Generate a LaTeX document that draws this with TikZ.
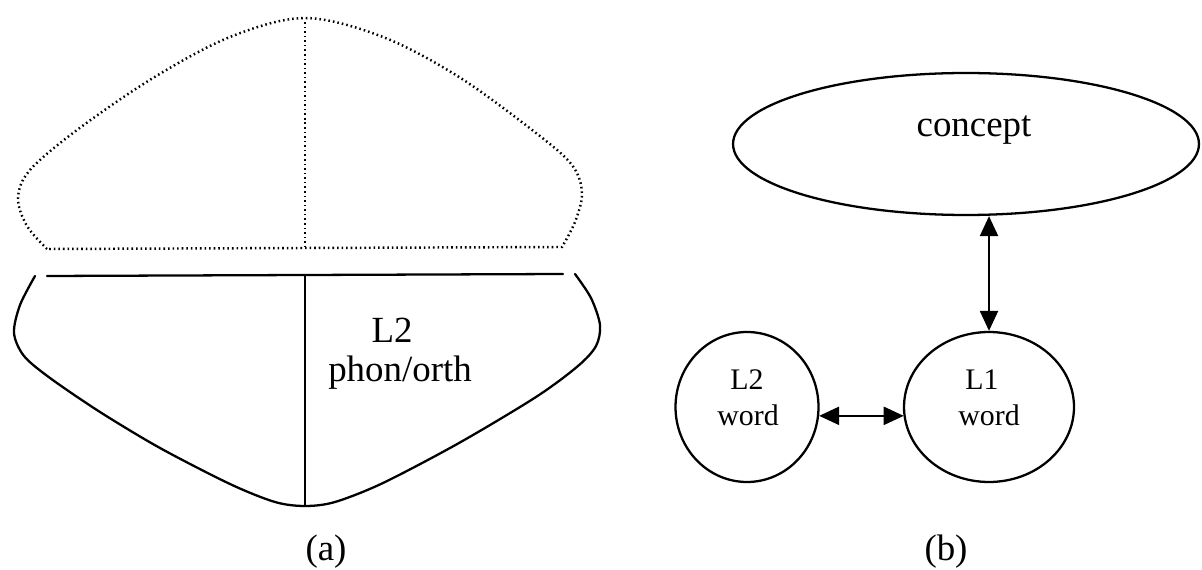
\documentclass[tikz,border=0pt]{standalone}
\usepackage{fontspec}
\setmainfont{Liberation Serif}
\usetikzlibrary{arrows.meta,shapes.geometric}
\begin{document}
\begin{tikzpicture}[x=0.02cm,y=-0.02cm,
  outline/.style={line width=1.3pt, line join=round, line cap=round},
  dotline/.style={line width=1.4pt, dash pattern=on 0.9pt off 1.7pt},
  bigtext/.style={anchor=base, inner sep=0pt, font=\fontsize{21}{21}\selectfont},
  smalltext/.style={anchor=base, inner sep=0pt, font=\fontsize{17}{17}\selectfont},
  bubble/.style={ellipse, draw, line width=1.3pt, inner sep=0pt},
  arr/.style={line width=1.3pt, {Triangle[length=0.4cm,width=0.36cm]}-{Triangle[length=0.4cm,width=0.36cm]}}]
\useasboundingbox (0,0) rectangle (1202,570);
% (a) upper dotted shape
\draw[dotline] plot[smooth, tension=0.55] coordinates {(47,249) (27,226) (18,198) (30,170) (77,130) (153,78) (230,37) (305,18) (383,37) (459,77) (536,133) (572,165) (582,193) (575,222) (562,247)} -- cycle;
\draw[dotline] (305,22) -- (305,246);
% (a) lower solid shape
\draw[outline] (47,276) -- (563,274);
\draw[outline] plot[smooth, tension=0.5] coordinates {(35,276) (20,305) (14,333) (24,356) (50,378) (100,412) (160,448) (230,484) (275,502) (305,506) (335,502) (383,483) (459,443) (536,397) (578,366) (596,346) (600,325) (591,298) (575,274)};
\draw[outline] (305,276) -- (305,506);
\node[bigtext] (l2a) at (392,343) {L2};
\node[bigtext] (phon) at (400,381) {phon/orth};
\node[bigtext] (capa) at (326,560) {(a)};
% (b)
\node[bubble, minimum width=9.32cm, minimum height=2.84cm] (concept) at (966,144) {};
\node[bigtext] (concepttxt) at (974,137) {concept};
\node[bubble, minimum width=2.86cm, minimum height=3.0cm] (L2) at (747,407) {};
\node[bubble, minimum width=3.4cm, minimum height=3.0cm] (L1) at (989,407) {};
\node[smalltext] (l2t) at (747,389) {L2};
\node[smalltext] (l2w) at (748,425) {word};
\node[smalltext] (l1t) at (982,389) {L1};
\node[smalltext] (l1w) at (989,425) {word};
\draw[arr] (L1.north) -- (L1.north |- concept.south);
\coordinate (ha) at (L2.-7);
\coordinate (hb) at (L1.187);
\draw[arr] (ha) -- (ha -| hb);
\node[bigtext] (capb) at (946,560) {(b)};
\end{tikzpicture}
\end{document}
